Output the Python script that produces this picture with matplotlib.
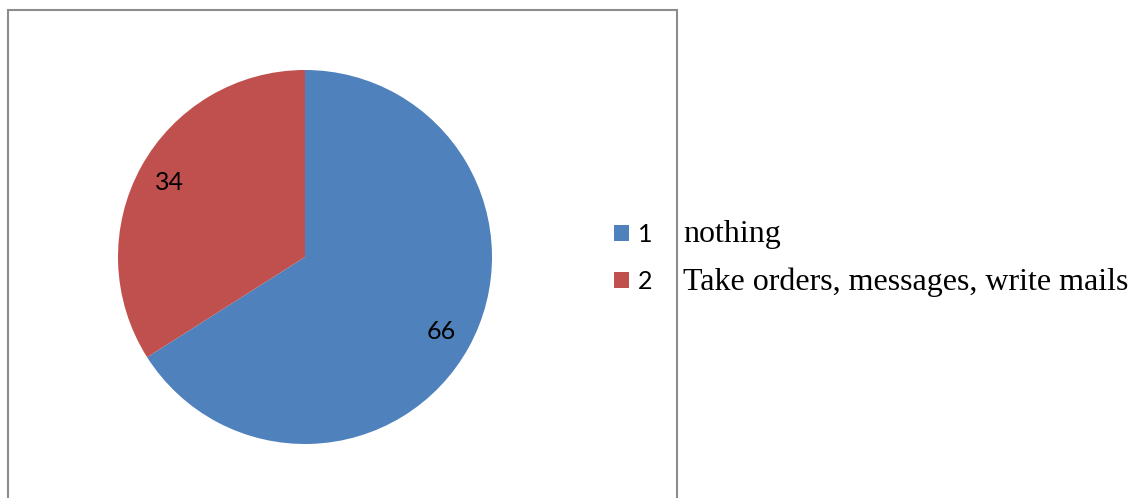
import matplotlib.pyplot as plt
from matplotlib.patches import Rectangle

# data
categories = ["1", "2"]
descriptions = ["nothing", "Take orders, messages, write mails"]
values = [66, 34]
colors = ["#4F81BD", "#C0504D"]

W, H = 1133, 498
fig = plt.figure(figsize=(W / 100, H / 100), dpi=100)

# pie axes: centre (305, 257) px, radius 187 px
cx, cy, r = 305, 257, 187
ax = fig.add_axes([(cx - r) / W, (H - cy - r) / H, 2 * r / W, 2 * r / H])
total = sum(values)
wedges, texts, autotexts = ax.pie(
    values, colors=colors, startangle=90, counterclock=False,
    autopct=lambda p: f"{p * total / 100:.0f}", pctdistance=0.83,
    wedgeprops=dict(linewidth=0),
    textprops=dict(fontsize=18, family="Lato", color="black"))
ax.set_xlim(-1, 1)
ax.set_ylim(-1, 1)
ax.set_aspect("equal")
ax.axis("off")

# outer chart frame (bottom edge is cut off in the original)
fig.patches.append(Rectangle((7.5 / W, -0.1), (676.5 - 7.5) / W, 1.1 - 10.5 / H,
                             transform=fig.transFigure, fill=False,
                             edgecolor="#8c8c8c", linewidth=1.5))

# legend with numbers
leg = fig.legend(wedges, categories, loc="center left",
                 bbox_to_anchor=(614 / W, 1 - 258 / H), bbox_transform=fig.transFigure,
                 frameon=False, borderpad=0, borderaxespad=0,
                 handlelength=0.6, handleheight=0.6, handletextpad=0.35,
                 labelspacing=0.95, prop=dict(family="Lato", size=18))

# description texts, outside the frame
row_y = [234, 282]
for desc, y in zip(descriptions, row_y):
    fig.text(683 / W, 1 - y / H, desc, ha="left", va="center",
             family="Liberation Serif", fontsize=23)

plt.savefig("out.png", dpi=100)
plt.close()
